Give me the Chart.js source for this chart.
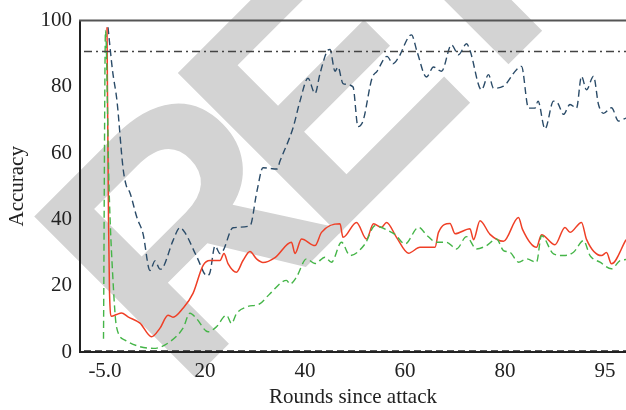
<!DOCTYPE html>
<html>
<head>
<meta charset="utf-8">
<script src="https://cdn.jsdelivr.net/npm/chart.js@4"></script>
<style>
  body { margin: 0; background: #fff; }
  #wrap { width: 626px; height: 410px; }
</style>
</head>
<body>
<div id="wrap"><canvas id="accChart" width="626" height="410"></canvas></div>
<script>
// x positions on the axis, and the labels printed under them
const tickPos = [0, 20, 40, 60, 80, 100];
const tickLabels = ['-5.0', '20', '40', '60', '80', '95'];

// dark blue dashed series
const blueRounds = [0.6, 1.5, 2.4, 3.6, 4.2, 5, 6.4, 7.6, 9, 10, 11, 11.6, 13.6, 15, 16, 18.4, 20.4, 21, 22, 23, 23.6, 25.6, 29, 30.4, 31.6, 34.4, 35, 37.6, 39, 40.6, 42, 43, 44.4, 45, 46, 46.6, 47.6, 49.6, 50.6, 51.6, 53.4, 54.4, 56.4, 57.6, 58.6, 61.3, 62.4, 64.3, 65.7, 67.3, 69.3, 70.7, 72.3, 73, 75.3, 76.7, 77.7, 79.7, 82.3, 83.3, 84.7, 86, 86.6, 88, 89.7, 90.6, 91.7, 93, 94.3, 95.3, 96.3, 97.7, 98.7, 99.7, 101.3, 102.7, 104.2];
const blueAcc    = [98, 85, 75.7, 55.6, 50.5, 48, 40.5, 35.7, 24.6, 27.5, 25, 25.5, 33.6, 37.5, 36, 28.6, 23, 24, 32, 29.7, 30.5, 37.5, 38.1, 48.6, 55.6, 55.2, 57.6, 67.6, 75.7, 82.6, 78, 84, 90.7, 91.3, 84.7, 86, 81, 80, 68, 69.7, 82.6, 84.7, 89.2, 87, 88.6, 95.7, 90.7, 83, 86, 84.7, 92.7, 89.7, 93, 91, 79.1, 83.7, 79.6, 80.2, 85.2, 86.2, 73.6, 73.6, 75.7, 67.3, 75.7, 75, 71.7, 74.7, 73.6, 83.2, 79.1, 83.2, 74.7, 72, 73.7, 69.7, 70.6];

// red solid series
const redRounds = [0.4, 0.7, 0.9, 1.3, 2.3, 3.3, 4.6, 7, 9.3, 11, 12.6, 13.6, 15.6, 17.6, 19.6, 21, 23, 23.8, 24.6, 26.3, 27.6, 29, 30.3, 31.6, 34, 37.3, 38, 39.3, 42, 43.3, 47, 47.6, 50.3, 52.3, 53.7, 55.3, 56.3, 58.3, 60.7, 63, 66, 66.7, 69, 70, 73, 73.7, 75, 77, 79.7, 82.7, 83.5, 86.3, 87.3, 90, 92, 93, 95.3, 96.3, 99.3, 100.3, 101.3, 104.2];
const redAcc    = [98, 40, 18, 10.8, 11.3, 11.8, 10.6, 8.7, 4.6, 7.2, 11.1, 10.5, 13.2, 17.7, 26.1, 27.6, 27.6, 29.7, 26.7, 24.1, 27.6, 30.3, 28.1, 27, 28.5, 33.1, 29.7, 34.1, 32.1, 36.1, 38.7, 34.6, 39.1, 34.1, 38.7, 37.6, 39.1, 34.6, 29.8, 31.6, 31.6, 36.1, 38.8, 35.7, 37.2, 33.9, 39.6, 35.5, 33.4, 40.6, 37, 31.6, 35.4, 32.4, 37.6, 36.1, 39.1, 34, 29.1, 30, 26.6, 33.9];

// green dashed series
const greenRounds = [-0.3, 0.1, 0.8, 1.6, 2.3, 4, 7, 9.7, 13, 15.6, 17, 18.3, 20.6, 22.3, 24.3, 25.3, 26.3, 28.3, 31, 33, 36.3, 37, 38.3, 40.3, 42, 44, 45.3, 47.3, 49, 52, 54, 56.7, 58, 60, 62.7, 64.5, 66.3, 68.3, 70.3, 72.3, 74.3, 76.3, 78.3, 79.7, 81, 82.7, 84.3, 86.3, 87.3, 89.7, 91.7, 93.7, 95.7, 97, 99, 101.3, 103, 104.2];
const greenAcc    = [4, 97, 50, 21.6, 7.6, 3.6, 1.6, 1.1, 3.1, 7.2, 11.7, 10.1, 6.1, 7.6, 11.1, 8.6, 11.6, 13.6, 14.6, 17.6, 21.6, 20.5, 22.6, 28.1, 26.7, 28.6, 27.1, 33.1, 29.1, 32.6, 38.1, 36.6, 35.5, 32.6, 37.6, 35, 33.1, 33.1, 31.1, 34.8, 31.1, 32.1, 34.1, 30.6, 30.1, 27.1, 28.1, 27.1, 35.1, 29.6, 29.1, 30.1, 33.6, 29.1, 27.1, 25.1, 27.6, 27.9];

// reference levels
const refRounds = [-4.2, 104.2];
const upperRefAcc = 90.7;
const lowerRefAcc = 0.3;

function toPoints(xs, ys) {
    return xs.map((x, i) => ({ x: x, y: ys[i] }));
}

const serif = "'Liberation Serif', 'DejaVu Serif', serif";

// grey watermark + top frame line
const frameAndMark = {
    id: 'frameAndMark',
    beforeDraw(chart) {
        const ctx = chart.ctx;
        ctx.save();
        ctx.translate(179.6, 393.2);
        ctx.rotate(-Math.PI / 4);
        ctx.font = "bold 331px 'Liberation Sans', Arial, sans-serif";
        if ('letterSpacing' in ctx) ctx.letterSpacing = '-36px';
        ctx.fillStyle = '#d3d3d3';
        ctx.textBaseline = 'alphabetic';
        ctx.fillText('RETRACTED', 0, 0);
        ctx.restore();
    },
    afterDraw(chart) {
        const a = chart.chartArea;
        const ctx = chart.ctx;
        ctx.save();
        ctx.strokeStyle = '#555';
        ctx.lineWidth = 2;
        ctx.beginPath();
        ctx.moveTo(a.left - 1, a.top);
        ctx.lineTo(a.right, a.top);
        ctx.stroke();
        ctx.restore();
    }
};

const ctx = document.getElementById('accChart').getContext('2d');
new Chart(ctx, {
    type: 'scatter',
    data: {
        datasets: [
            {
                data: toPoints(refRounds, [upperRefAcc, upperRefAcc]),
                borderColor: '#444', borderWidth: 1.5, borderDash: [8, 4, 2, 4]
            },
            {
                data: toPoints(refRounds, [lowerRefAcc, lowerRefAcc]),
                borderColor: '#222', borderWidth: 1.5, borderDash: [7, 4]
            },
            {
                data: toPoints(greenRounds, greenAcc),
                borderColor: '#45b548', borderWidth: 1.4, borderDash: [7, 4]
            },
            {
                data: toPoints(redRounds, redAcc),
                borderColor: '#ef3f26', borderWidth: 1.5
            },
            {
                data: toPoints(blueRounds, blueAcc),
                borderColor: '#2a4b68', borderWidth: 1.4, borderDash: [7, 4]
            }
        ]
    },
    options: {
        responsive: false,
        animation: false,
        showLine: true,
        elements: {
            point: { radius: 0 },
            line: { cubicInterpolationMode: 'monotone', fill: false }
        },
        layout: { padding: { top: 19, right: 0, bottom: 0, left: 0 } },
        plugins: { legend: { display: false }, tooltip: { enabled: false } },
        scales: {
            x: {
                type: 'linear',
                min: -5,
                max: 104.2,
                afterBuildTicks: (scale) => { scale.ticks = tickPos.map(v => ({ value: v })); },
                afterFit: (scale) => { scale.height = 58; },
                grid: { display: false, drawTicks: false },
                border: { display: true, color: '#222', width: 2 },
                ticks: {
                    padding: 7,
                    color: '#222',
                    font: { family: serif, size: 21 },
                    maxRotation: 0,
                    callback: (v) => tickLabels[tickPos.indexOf(v)]
                },
                title: {
                    display: true,
                    text: 'Rounds since attack',
                    color: '#222',
                    font: { family: serif, size: 21 },
                    padding: { top: 0, bottom: 0 }
                }
            },
            y: {
                min: 0,
                max: 100,
                afterFit: (scale) => { scale.width = 80; },
                grid: { display: false, drawTicks: false },
                border: { display: true, color: '#222', width: 2 },
                ticks: {
                    stepSize: 20,
                    padding: 8,
                    color: '#222',
                    font: { family: serif, size: 21 }
                },
                title: {
                    display: true,
                    text: 'Accuracy',
                    color: '#222',
                    font: { family: serif, size: 21 },
                    padding: { top: 5, bottom: 0 }
                }
            }
        }
    },
    plugins: [frameAndMark]
});
</script>
</body>
</html>
